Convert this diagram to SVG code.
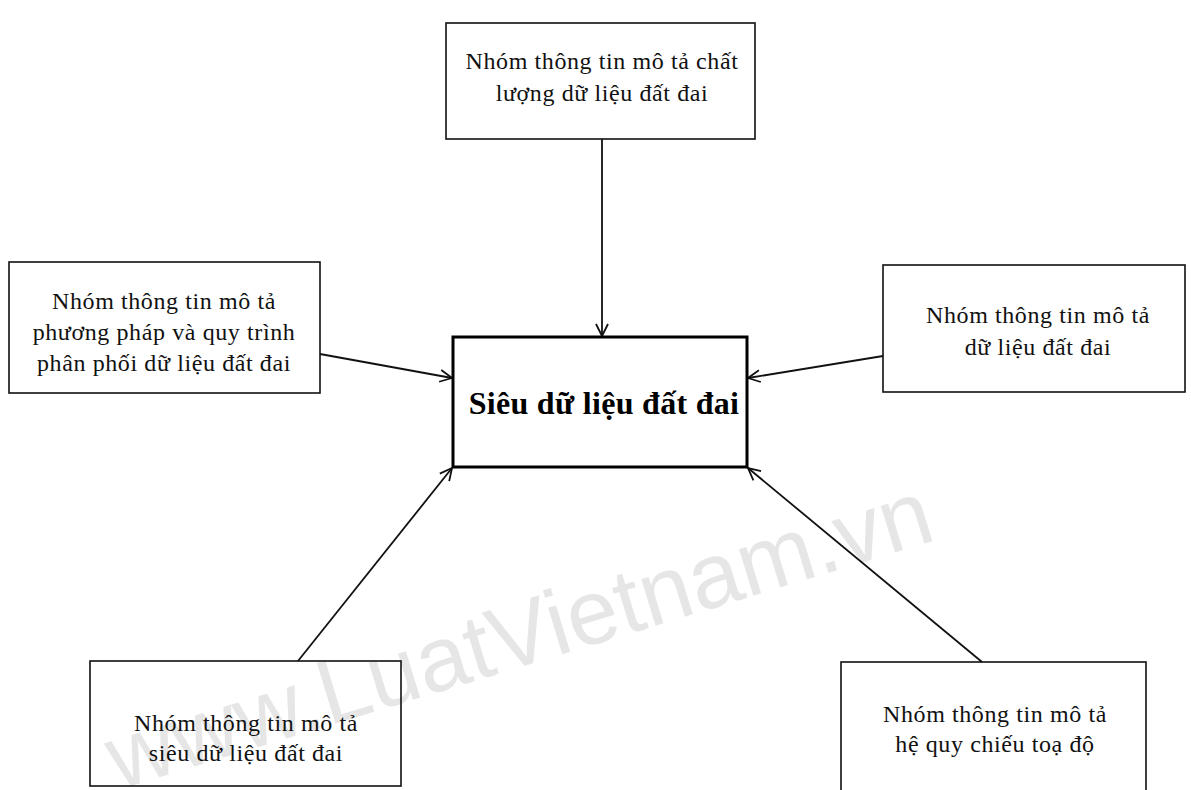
<svg xmlns="http://www.w3.org/2000/svg" width="1191" height="790" viewBox="0 0 1191 790">
<style>
.box{fill:none;stroke:#111;stroke-width:1.6}
.main{fill:none;stroke:#000;stroke-width:3}
.t{font-family:"Liberation Serif","Times New Roman",serif;font-size:24px;letter-spacing:0.6px;fill:#111;text-anchor:middle}
.tb{font-family:"Liberation Serif","Times New Roman",serif;font-size:32px;font-weight:bold;fill:#000;text-anchor:middle;letter-spacing:0.3px}
.c{stroke:#111;stroke-width:1.8;fill:none;marker-end:url(#arr)}
.wm{font-family:"Liberation Sans",Arial,sans-serif;font-size:92px;fill:#e6e6e6}
</style>
<defs>
<marker id="arr" viewBox="0 0 14 14" refX="13" refY="7" markerWidth="14" markerHeight="14" markerUnits="userSpaceOnUse" orient="auto">
<path d="M1,1 L13,7 L1,13" fill="none" stroke="#111" stroke-width="1.8"/>
</marker>
</defs>
<rect width="1191" height="790" fill="#fff"/>
<text class="wm" transform="translate(118,790) rotate(-17)">www.LuatVietnam.vn</text>
<g id="connectors">
<line class="c" x1="602" y1="139" x2="602" y2="336"/>
<line class="c" x1="320" y1="354" x2="452" y2="378"/>
<line class="c" x1="883" y1="356" x2="748" y2="378"/>
<line class="c" x1="298" y1="661" x2="452" y2="468"/>
<line class="c" x1="982" y1="662" x2="748" y2="468"/>
</g>
<g id="n-top">
<rect class="box" x="446" y="23" width="309" height="116"/>
<text class="t" x="602" y="69">Nhóm thông tin mô tả chất</text>
<text class="t" x="602" y="101">lượng dữ liệu đất đai</text>
</g>
<g id="n-left">
<rect class="box" x="9" y="262" width="311" height="131"/>
<text class="t" x="164" y="309">Nhóm thông tin mô tả</text>
<text class="t" x="164" y="340">phương pháp và quy trình</text>
<text class="t" x="164" y="371">phân phối dữ liệu đất đai</text>
</g>
<g id="n-right">
<rect class="box" x="883" y="265" width="302" height="127"/>
<text class="t" x="1038" y="323">Nhóm thông tin mô tả</text>
<text class="t" x="1038" y="355">dữ liệu đất đai</text>
</g>
<g id="n-center">
<rect class="main" x="453" y="337" width="294" height="130"/>
<text class="tb" x="604" y="414">Siêu dữ liệu đất đai</text>
</g>
<g id="n-bottom-left">
<rect class="box" x="90" y="661" width="311" height="125"/>
<text class="t" x="246" y="731">Nhóm thông tin mô tả</text>
<text class="t" x="246" y="761">siêu dữ liệu đất đai</text>
</g>
<g id="n-bottom-right">
<rect class="box" x="841" y="662" width="305" height="140"/>
<text class="t" x="995" y="722">Nhóm thông tin mô tả</text>
<text class="t" x="995" y="752">hệ quy chiếu toạ độ</text>
</g>
</svg>
